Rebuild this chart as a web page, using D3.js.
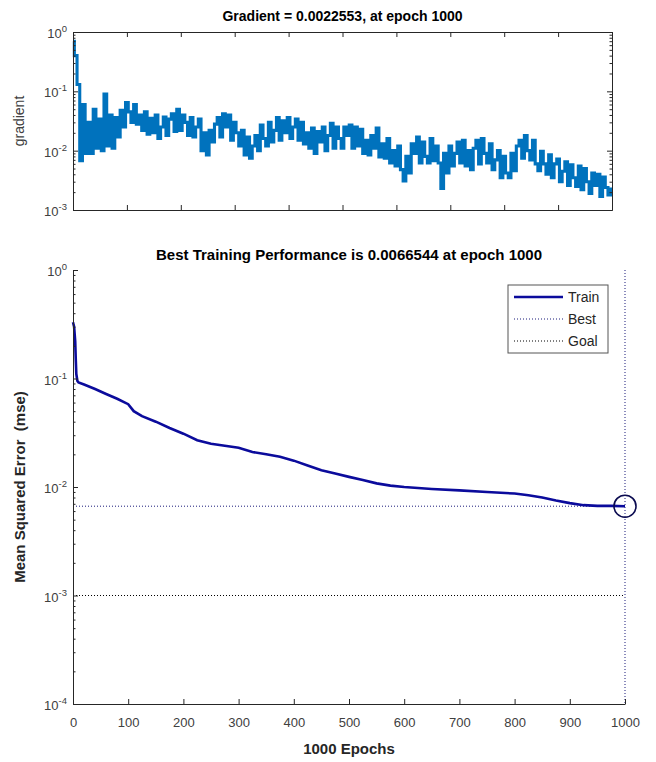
<!DOCTYPE html>
<html>
<head>
<meta charset="utf-8">
<script src="https://cdn.jsdelivr.net/npm/d3@7"></script>
<style>
  html, body { margin: 0; padding: 0; background: #fff; }
  svg { display: block; font-family: "Liberation Sans", Arial, Helvetica, sans-serif; }
</style>
</head>
<body>
<svg id="chart" width="656" height="762"></svg>
<script>
// ---------------- DATA ----------------
const epochTicks = [0, 100, 200, 300, 400, 500, 600, 700, 800, 900, 1000];
const gradTickExps = [0, -1, -2, -3];
const perfTickExps = [0, -1, -2, -3, -4];

// gradient values read every 5 epochs (0..1000)
const gradStep = 5;
const gradientValues = [
  0.70, 0.40, 0.13, 0.0068, 0.060, 0.009, 0.030, 0.009, 0.050, 0.011,
  0.034, 0.010, 0.090, 0.012, 0.040, 0.011, 0.036, 0.017, 0.048, 0.025,
  0.065, 0.045, 0.030, 0.060, 0.028, 0.040, 0.022, 0.045, 0.019, 0.035,
  0.020, 0.040, 0.016, 0.025, 0.037, 0.018, 0.034, 0.042, 0.021, 0.050,
  0.022, 0.040, 0.030, 0.018, 0.036, 0.017, 0.025, 0.034, 0.010, 0.020,
  0.0085, 0.022, 0.014, 0.028, 0.036, 0.017, 0.042, 0.025, 0.040, 0.015,
  0.030, 0.020, 0.012, 0.022, 0.0085, 0.017, 0.0075, 0.012, 0.018, 0.010,
  0.027, 0.016, 0.012, 0.030, 0.014, 0.022, 0.036, 0.015, 0.032, 0.020,
  0.036, 0.016, 0.025, 0.034, 0.015, 0.030, 0.013, 0.020, 0.011, 0.024,
  0.009, 0.021, 0.014, 0.025, 0.010, 0.018, 0.029, 0.011, 0.025, 0.016,
  0.011, 0.025, 0.018, 0.027, 0.011, 0.025, 0.012, 0.023, 0.009, 0.015,
  0.0085, 0.018, 0.011, 0.024, 0.0078, 0.013, 0.0075, 0.016, 0.0062, 0.010,
  0.0055, 0.012, 0.0048, 0.0031, 0.008, 0.0042, 0.013, 0.009, 0.017, 0.0062,
  0.014, 0.008, 0.0062, 0.016, 0.0068, 0.012, 0.0062, 0.0023, 0.009, 0.0042,
  0.012, 0.0055, 0.009, 0.014, 0.0062, 0.015, 0.0055, 0.010, 0.0048, 0.011,
  0.015, 0.006, 0.016, 0.009, 0.0062, 0.013, 0.0048, 0.007, 0.010, 0.0035,
  0.008, 0.0042, 0.0035, 0.009, 0.0046, 0.012, 0.015, 0.0075, 0.018, 0.010,
  0.0070, 0.015, 0.0060, 0.0046, 0.0098, 0.0060, 0.0040, 0.0085, 0.0035, 0.0060,
  0.0072, 0.0030, 0.0045, 0.0065, 0.0026, 0.0058, 0.0035, 0.0025, 0.0055, 0.0022,
  0.0050, 0.0030, 0.0019, 0.0042, 0.0026, 0.0040, 0.0017, 0.0036, 0.0024, 0.0018,
  0.0022553
];

const trainEpochs = [0, 2, 4, 5, 6, 8, 10, 20, 40, 60, 80, 100, 110, 125, 150, 175, 200, 225, 250, 275,
  300, 325, 350, 375, 400, 425, 450, 475, 500, 525, 550, 575, 600, 650, 700, 750, 800, 825, 850, 875,
  900, 925, 950, 975, 1000];
const trainValues = [0.33, 0.30, 0.22, 0.15, 0.11, 0.095, 0.092, 0.088, 0.080, 0.072, 0.065, 0.058, 0.050, 0.045, 0.040, 0.035, 0.031, 0.027, 0.025, 0.024,
  0.023, 0.021, 0.020, 0.019, 0.0175, 0.0158, 0.0143, 0.0133, 0.0124, 0.0116, 0.0108, 0.0103, 0.0100, 0.0096, 0.0093, 0.0090, 0.0087, 0.0084, 0.0080, 0.0075,
  0.0071, 0.0068, 0.0067, 0.0067, 0.0066544];

const bestEpoch = 1000;
const bestPerf = 0.0066544;
const goalPerf = 0.001;

const topTitle = "Gradient = 0.0022553, at epoch 1000";
const bottomTitle = "Best Training Performance is 0.0066544 at epoch 1000";
const legendLabels = ["Train", "Best", "Goal"];

// ---------------- DRAW ----------------
const svg = d3.select("#chart");
const axisColor = "#262626";
const tickTextColor = "#404040";

function minorTicks(lo, hi) {
  const out = [];
  for (let e = lo; e < hi; e++) {
    for (let m = 2; m <= 9; m++) out.push(m * Math.pow(10, e));
  }
  return out;
}

function supLabels(g, yScale, exps, xPos) {
  exps.forEach(e => {
    const t = g.append("text")
      .attr("x", xPos)
      .attr("y", yScale(Math.pow(10, e)) + 6)
      .attr("text-anchor", "end")
      .attr("fill", tickTextColor)
      .style("font-size", "13px");
    t.append("tspan").text("10");
    t.append("tspan").attr("dy", -6).style("font-size", "9.5px").text(String(e));
  });
}

// ---- Top plot: gradient ----
const tp = { l: 73, r: 612, t: 32, b: 210 };
const xT = d3.scaleLinear().domain([0, 1000]).range([tp.l, tp.r]);
const yT = d3.scaleLog().domain([1e-3, 1]).range([tp.b, tp.t]);

const gTop = svg.append("g");

const gradData = gradientValues.map((v, i) => ({ e: i * gradStep, v }));
gTop.append("path")
  .datum(gradData)
  .attr("fill", "none")
  .attr("stroke", "#0072BD")
  .attr("stroke-width", 3.1)
  .attr("stroke-linejoin", "miter")
  .attr("d", d3.line().x(d => xT(d.e)).y(d => yT(d.v)).curve(d3.curveStep));

function styleAxis(g) {
  g.select(".domain").attr("stroke", axisColor);
  g.selectAll(".tick line").attr("stroke", axisColor);
}
gTop.append("g").attr("transform", `translate(0,${tp.b})`)
  .call(d3.axisBottom(xT).tickValues(epochTicks).tickSize(-5).tickSizeOuter(0).tickFormat(""))
  .call(styleAxis);
gTop.append("g").attr("transform", `translate(0,${tp.t})`)
  .call(d3.axisTop(xT).tickValues(epochTicks).tickSize(-5).tickSizeOuter(0).tickFormat(""))
  .call(styleAxis);
gTop.append("g").attr("transform", `translate(${tp.l},0)`)
  .call(d3.axisLeft(yT).tickValues(gradTickExps.map(e => Math.pow(10, e))).tickSize(-5).tickSizeOuter(0).tickFormat(""))
  .call(styleAxis);
gTop.append("g").attr("transform", `translate(${tp.r},0)`)
  .call(d3.axisRight(yT).tickValues(gradTickExps.map(e => Math.pow(10, e))).tickSize(-5).tickSizeOuter(0).tickFormat(""))
  .call(styleAxis);
gTop.append("g").attr("transform", `translate(${tp.l},0)`)
  .call(d3.axisLeft(yT).tickValues(minorTicks(-3, 0)).tickSize(-2.5).tickSizeOuter(0).tickFormat(""))
  .call(styleAxis);
gTop.append("g").attr("transform", `translate(${tp.r},0)`)
  .call(d3.axisRight(yT).tickValues(minorTicks(-3, 0)).tickSize(-2.5).tickSizeOuter(0).tickFormat(""))
  .call(styleAxis);
supLabels(gTop, yT, gradTickExps, tp.l - 6);

gTop.append("text")
  .attr("x", (tp.l + tp.r) / 2).attr("y", 21)
  .attr("text-anchor", "middle").attr("font-weight", "bold")
  .style("font-size", "14px").attr("fill", "#000")
  .text(topTitle);
gTop.append("text")
  .attr("transform", `translate(24,${(tp.t + tp.b) / 2}) rotate(-90)`)
  .attr("text-anchor", "middle")
  .style("font-size", "14px").attr("fill", tickTextColor)
  .text("gradient");

// ---- Bottom plot: performance ----
const bp = { l: 73, r: 625, t: 270, b: 704 };
const xB = d3.scaleLinear().domain([0, 1000]).range([bp.l, bp.r]);
const yB = d3.scaleLog().domain([1e-4, 1]).range([bp.b, bp.t]);
const gBot = svg.append("g");

gBot.append("line")
  .attr("x1", xB(0)).attr("x2", xB(1000))
  .attr("y1", yB(goalPerf)).attr("y2", yB(goalPerf))
  .attr("stroke", "#000").attr("stroke-width", 1).attr("stroke-dasharray", "1,2");
gBot.append("line")
  .attr("x1", xB(0)).attr("x2", xB(1000))
  .attr("y1", yB(bestPerf)).attr("y2", yB(bestPerf))
  .attr("stroke", "#1a1a7a").attr("stroke-width", 1).attr("stroke-dasharray", "1,2");
gBot.append("line")
  .attr("x1", xB(bestEpoch)).attr("x2", xB(bestEpoch))
  .attr("y1", yB(1)).attr("y2", yB(1e-4))
  .attr("stroke", "#1a1a7a").attr("stroke-width", 1).attr("stroke-dasharray", "1,2");

const trainData = trainEpochs.map((e, i) => ({ e, v: trainValues[i] }));
gBot.append("path")
  .datum(trainData)
  .attr("fill", "none")
  .attr("stroke", "#0b0b9c")
  .attr("stroke-width", 2.6)
  .attr("d", d3.line().x(d => xB(d.e)).y(d => yB(d.v)));

gBot.append("circle")
  .attr("cx", xB(bestEpoch)).attr("cy", yB(bestPerf)).attr("r", 11)
  .attr("fill", "none").attr("stroke", "#0b0b50").attr("stroke-width", 1.6);

gBot.append("g").attr("transform", `translate(0,${bp.b})`)
  .call(d3.axisBottom(xB).tickValues(epochTicks).tickSize(-5).tickSizeOuter(0).tickPadding(14).tickFormat(d3.format("d")))
  .call(styleAxis)
  .call(g => g.selectAll(".tick text").attr("fill", tickTextColor).style("font-size", "13px")
    .style("font-family", "'Liberation Sans', Arial, sans-serif"));
gBot.append("g").attr("transform", `translate(${bp.l},0)`)
  .call(d3.axisLeft(yB).tickValues(perfTickExps.map(e => Math.pow(10, e))).tickSize(-5).tickSizeOuter(0).tickFormat(""))
  .call(styleAxis);
gBot.append("g").attr("transform", `translate(${bp.l},0)`)
  .call(d3.axisLeft(yB).tickValues(minorTicks(-4, 0)).tickSize(-2.5).tickSizeOuter(0).tickFormat(""))
  .call(styleAxis);
supLabels(gBot, yB, perfTickExps, bp.l - 6);

gBot.append("text")
  .attr("x", (bp.l + bp.r) / 2).attr("y", 260)
  .attr("text-anchor", "middle").attr("font-weight", "bold")
  .style("font-size", "15px").attr("fill", "#000")
  .text(bottomTitle);
gBot.append("text")
  .attr("transform", `translate(25,${(bp.t + bp.b) / 2}) rotate(-90)`)
  .attr("text-anchor", "middle").attr("font-weight", "bold")
  .style("font-size", "15px").attr("fill", "#262626")
  .style("white-space", "pre")
  .text("Mean Squared Error  (mse)");
gBot.append("text")
  .attr("x", (bp.l + bp.r) / 2).attr("y", 754)
  .attr("text-anchor", "middle").attr("font-weight", "bold")
  .style("font-size", "15px").attr("fill", "#262626")
  .text("1000 Epochs");

const lg = gBot.append("g");
const lx = 508, ly = 285, lw = 100, lh = 68;
lg.append("rect").attr("x", lx).attr("y", ly).attr("width", lw).attr("height", lh)
  .attr("fill", "#fff").attr("stroke", "#555").attr("stroke-width", 1);
const legendStyles = [
  { stroke: "#0b0b9c", w: 2.6, dash: null },
  { stroke: "#1a1a7a", w: 1, dash: "1,2" },
  { stroke: "#000", w: 1, dash: "1,2" }
];
legendLabels.forEach((lab, i) => {
  const yy = ly + 12 + i * 22;
  lg.append("line").attr("x1", lx + 6).attr("x2", lx + 55).attr("y1", yy).attr("y2", yy)
    .attr("stroke", legendStyles[i].stroke).attr("stroke-width", legendStyles[i].w)
    .attr("stroke-dasharray", legendStyles[i].dash);
  lg.append("text").attr("x", lx + 60).attr("y", yy + 5)
    .style("font-size", "14px").attr("fill", "#262626").text(lab);
});
</script>
</body>
</html>
